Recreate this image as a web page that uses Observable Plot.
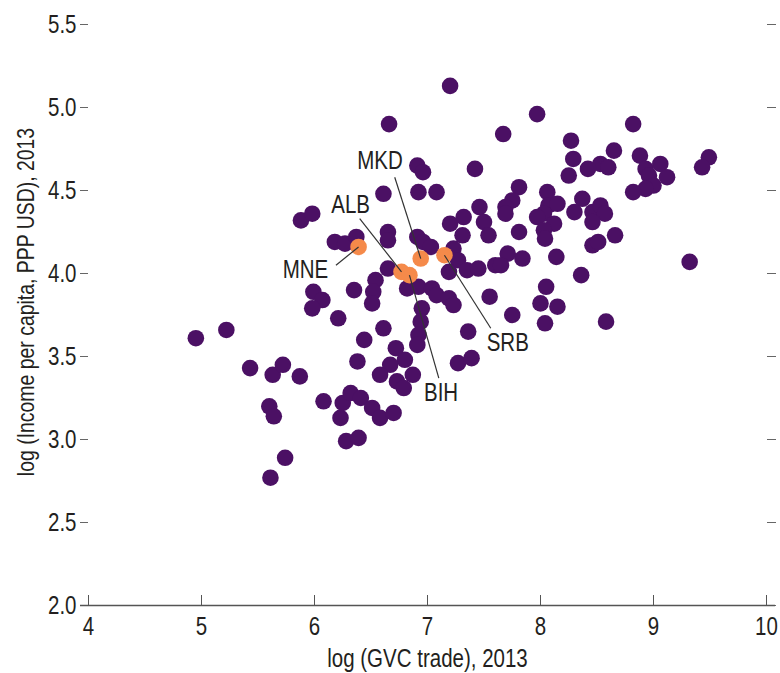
<!DOCTYPE html>
<html>
<head>
<meta charset="utf-8">
<script src="https://cdn.jsdelivr.net/npm/d3@7"></script>
<script src="https://cdn.jsdelivr.net/npm/@observablehq/plot@0.6"></script>
<style>
  html, body { margin: 0; padding: 0; background: #fff; }
  #chart { width: 780px; height: 673px; }
</style>
</head>
<body>
<div id="chart"></div>
<script>
// ---- Data ----
const gvcTrade = [
  4.95, 5.22, 5.43, 5.63, 5.72, 5.87, 5.60, 5.64, 5.74, 5.61,
  5.88, 5.98, 5.99, 6.07, 5.98, 6.21, 6.35, 6.18, 6.27, 6.37,
  6.65, 6.65, 6.61, 6.66, 6.54, 6.52, 6.51, 6.61, 6.44, 6.38,
  6.72, 6.80, 6.67, 6.87, 6.58, 6.73, 6.79, 6.08, 6.25, 6.32,
  6.41, 6.23, 6.51, 6.58, 6.70, 6.28, 6.39, 6.91, 6.96, 6.92,
  7.08, 6.91, 6.96, 7.03, 6.65, 6.82, 6.92, 7.04, 7.08, 7.19,
  7.23, 6.95, 6.94, 6.92, 6.91, 7.36, 7.27, 7.39, 7.20, 7.97,
  7.67, 7.42, 8.82, 8.27, 8.29, 8.65, 8.53, 8.60, 8.42, 8.25,
  8.88, 8.93, 9.06, 9.12, 8.96, 9.00, 8.93, 8.82, 9.49, 9.43,
  7.81, 8.06, 7.46, 7.75, 7.69, 7.69, 8.07, 8.15, 8.03, 7.97,
  8.37, 8.30, 8.46, 8.53, 8.57, 8.46, 7.20, 7.32, 7.31, 7.50,
  7.54, 7.81, 8.12, 8.03, 8.04, 8.46, 8.51, 8.66, 7.23, 7.27,
  7.19, 7.35, 7.45, 7.71, 7.60, 7.65, 7.84, 8.14, 8.36, 9.32,
  7.55, 8.05, 8.00, 8.15, 8.04, 7.75, 8.58
];
const income = [
  3.61, 3.66, 3.43, 3.39, 3.45, 3.38, 3.20, 3.14, 2.89, 2.77,
  4.32, 4.36, 3.89, 3.84, 3.79, 3.73, 3.90, 4.19, 4.18, 4.22,
  4.25, 4.20, 4.48, 4.90, 3.96, 3.89, 3.82, 3.67, 3.60, 3.47,
  3.55, 3.48, 3.45, 3.39, 3.39, 3.35, 3.31, 3.23, 3.22, 3.28,
  3.25, 3.13, 3.19, 3.13, 3.16, 2.99, 3.01, 4.65, 4.61, 4.49,
  4.49, 4.22, 4.19, 4.16, 4.03, 3.91, 3.92, 3.91, 3.87, 3.85,
  3.81, 3.79, 3.71, 3.63, 3.57, 3.65, 3.46, 3.49, 5.13, 4.96,
  4.84, 4.63, 4.90, 4.80, 4.69, 4.74, 4.66, 4.64, 4.63, 4.59,
  4.71, 4.63, 4.66, 4.58, 4.59, 4.53, 4.51, 4.49, 4.70, 4.64,
  4.52, 4.49, 4.40, 4.44, 4.40, 4.36, 4.41, 4.42, 4.36, 4.34,
  4.45, 4.37, 4.37, 4.41, 4.36, 4.31, 4.30, 4.34, 4.23, 4.31,
  4.23, 4.25, 4.30, 4.26, 4.21, 4.17, 4.19, 4.23, 4.15, 4.08,
  4.01, 4.02, 4.03, 4.12, 4.05, 4.05, 4.09, 4.10, 3.99, 4.07,
  3.86, 3.92, 3.82, 3.80, 3.70, 3.75, 3.71
];

// Highlighted Western Balkan economies
const highlightCodes  = ["MNE", "ALB", "MKD", "BIH", "SRB"];
const highlightGvc    = [6.39, 6.77, 6.94, 6.84, 7.15];
const highlightIncome = [4.16, 4.01, 4.09, 3.99, 4.11];

// Annotation layout for the labels (in data units)
const labelGvc     = [5.92, 6.32, 6.58, 7.12, 7.71];
const labelIncome  = [4.02, 4.41, 4.68, 3.28, 3.58];
const leaderGvc    = [6.19, 6.40, 6.71, 7.10, 7.56];
const leaderIncome = [4.05, 4.33, 4.58, 3.37, 3.67];

// Axis ticks
const xTicks = [4, 5, 6, 7, 8, 9, 10];
const yTicks = [2.0, 2.5, 3.0, 3.5, 4.0, 4.5, 5.0, 5.5];

const xTitle = "log (GVC trade), 2013";
const yTitle = "log (Income per capita, PPP USD), 2013";

// ---- Build tables ----
const points = gvcTrade.map((x, i) => ({x, y: income[i]}));
const highlights = highlightCodes.map((code, i) => ({
  code, x: highlightGvc[i], y: highlightIncome[i],
  lx: labelGvc[i], ly: labelIncome[i], kx: leaderGvc[i], ky: leaderIncome[i]
}));

const purple = "#4b1064";
const orange = "#f58a4a";
const ink = "#231f20";
const FONT = "'Liberation Sans', Arial, sans-serif";

const chart = Plot.plot({
  width: 780,
  height: 673,
  marginLeft: 88,
  marginRight: 14,
  marginTop: 24,
  marginBottom: 68,
  style: {fontFamily: FONT, fontSize: "25px", color: ink, background: "#fff"},
  x: {domain: [4, 10]},
  y: {domain: [2, 5.5]},
  marks: [
    // left axis: ticks + labels, no line
    Plot.axisY(yTicks, {anchor: "left", tickSize: 8, tickPadding: 4, tickFormat: d3.format(".1f"),
      stroke: "#666", fill: ink, fontSize: 25, label: null}),
    // right axis: ticks only
    Plot.axisY(yTicks, {anchor: "right", tickSize: 9, tickFormat: () => "", stroke: "#666", label: null}),
    // bottom axis line
    Plot.ruleY([2], {stroke: "#555", strokeWidth: 1.5, insetLeft: -8, insetRight: -9}),
    // bottom axis: ticks pointing up + labels
    Plot.axisX(xTicks, {anchor: "bottom", tickSize: -10, tickPadding: 22, stroke: "#555",
      fill: ink, fontSize: 25, label: null}),
    // data points
    Plot.dot(points, {x: "x", y: "y", r: 8.3, fill: purple, stroke: null}),
    Plot.dot(highlights, {x: "x", y: "y", r: 8.3, fill: orange, stroke: null}),
    // leader lines
    Plot.link(highlights, {x1: "kx", y1: "ky", x2: "x", y2: "y", stroke: "#333", strokeWidth: 1.2}),
    // labels
    Plot.text(highlights, {x: "lx", y: "ly", text: "code", fontSize: 25, fill: ink}),
    // axis titles
    Plot.text([xTitle], {frameAnchor: "bottom", textAnchor: "middle", lineAnchor: "middle",
      dy: 53, fontSize: 25, fill: ink}),
    Plot.text([yTitle], {frameAnchor: "left", textAnchor: "middle", lineAnchor: "middle",
      dx: -62, dy: -13, rotate: -90, fontSize: 23.7, fill: ink})
  ]
});

// Condensed lettering: narrow every text horizontally along its own baseline
chart.querySelectorAll("text").forEach((t) => {
  const tr = t.getAttribute("transform") || "";
  t.setAttribute("transform", (tr + " scale(0.82,1)").trim());
});

document.getElementById("chart").appendChild(chart);
</script>
</body>
</html>
